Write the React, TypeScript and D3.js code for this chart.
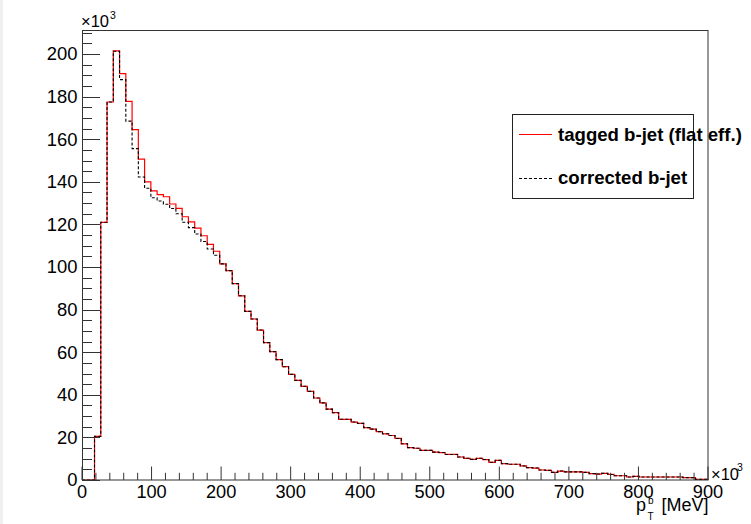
import React from "react";
import * as d3 from "d3";

// Histogram: 100 bins from 0 to 900 (x10^3 MeV), values in x10^3
const binLow = 0;
const binHigh = 900;
const nBins = 100;

const taggedValues = [
  0, 0, 20.5, 121, 177.5, 201.5, 190.8, 177.8, 164.5, 150.7,
  140.0, 135.8, 134.0, 133.0, 129.6, 127.5, 123.6, 121.2, 118.3, 114.7,
  110.6, 107.4, 101.5, 98.3, 92.2, 86.5, 79.2, 75.6, 70.4, 64.5,
  60.3, 56.5, 53.2, 49.6, 46.8, 44.0, 41.6, 38.5, 36.2, 33.3,
  31.6, 28.5, 28.5, 27.2, 26.6, 24.6, 23.9, 22.7, 21.7, 20.9,
  19.5, 17.0, 15.2, 14.9, 13.9, 13.9, 13.1, 12.9, 12.0, 12.0,
  10.8, 10.2, 9.7, 10.2, 9.6, 8.3, 9.2, 7.7, 7.4, 7.4,
  6.6, 5.8, 5.6, 4.7, 4.5, 3.6, 4.2, 3.8, 3.8, 3.8,
  3.6, 3.0, 2.8, 3.1, 2.6, 2.0, 2.0, 1.4, 1.7, 1.4,
  1.4, 1.4, 1.4, 1.4, 1.4, 1.4, 1.1, 1.1, 0.3, 0.3,
];

const correctedValues = [
  0, 0, 20.5, 121, 177.5, 201.3, 188.0, 168.5, 155.6, 142.3,
  137.0, 132.5, 131.0, 129.5, 127.5, 125.0, 121.0, 118.5, 115.5, 112.0,
  108.5, 105.5, 101.5, 98.3, 92.2, 86.5, 79.2, 75.6, 70.4, 64.5,
  60.3, 56.5, 53.2, 49.6, 46.8, 44.0, 41.6, 38.5, 36.2, 33.3,
  31.6, 28.5, 28.5, 27.2, 26.6, 24.6, 23.9, 22.7, 21.7, 20.9,
  19.5, 17.0, 15.2, 14.9, 13.9, 13.9, 13.1, 12.9, 12.0, 12.0,
  10.8, 10.2, 9.7, 10.2, 9.6, 8.3, 9.2, 7.7, 7.4, 7.4,
  6.6, 5.8, 5.6, 4.7, 4.5, 3.6, 4.2, 3.8, 3.8, 3.8,
  3.6, 3.0, 2.8, 3.1, 2.6, 2.0, 2.0, 1.4, 1.7, 1.4,
  1.4, 1.4, 1.4, 1.4, 1.4, 1.4, 1.1, 1.1, 0.3, 0.3,
];

const xMajorTicks = [0, 100, 200, 300, 400, 500, 600, 700, 800, 900];
const yMajorTicks = [0, 20, 40, 60, 80, 100, 120, 140, 160, 180, 200];
const legendLabels = ["tagged b-jet (flat eff.)", "corrected b-jet"];

const W = 751;
const H = 524;
const FONT = "'Liberation Sans', Arial, Helvetica, sans-serif";

export default function App() {
  const x = d3.scaleLinear().domain([binLow, binHigh]).range([82, 708]);
  const y = d3.scaleLinear().domain([0, 211.3]).range([480, 30]);
  const bw = (binHigh - binLow) / nBins;

  const stepPath = (vals: number[]) => {
    const pts: [number, number][] = [[binLow, 0]];
    vals.forEach((v, i) => pts.push([binLow + i * bw, v]));
    pts.push([binHigh, vals[vals.length - 1]]);
    pts.push([binHigh, 0]);
    return d3
      .line<[number, number]>()
      .x((d) => x(d[0]))
      .y((d) => y(d[1]))
      .curve(d3.curveStepAfter)(pts) as string;
  };

  const xMinor = d3.range(0, 901, 20);
  const yMinor = d3.range(0, 211, 5);

  return (
    <svg
      width={W}
      height={H}
      style={{ position: "absolute", left: 0, top: 0, background: "#fff" }}
      fontFamily={FONT}
    >
      <rect x={0} y={0} width={W} height={H} fill="#fff" />
      <rect x={0} y={0} width={3} height={H} fill="#f0f0f0" />

      {/* histograms */}
      <path d={stepPath(taggedValues)} fill="none" stroke="#ff0000" strokeWidth={1.2} />
      <path
        d={stepPath(correctedValues)}
        fill="none"
        stroke="#000"
        strokeWidth={1.1}
        strokeDasharray="3,2"
      />

      {/* legend */}
      <rect x={512.5} y={114.5} width={181} height={84} fill="#fff" stroke="#222" strokeWidth={1} />
      <line x1={519} x2={552} y1={134.5} y2={134.5} stroke="#ff0000" strokeWidth={1.2} />
      <text x={558} y={141} fontSize={18.6} fontWeight="bold" fill="#000">
        {legendLabels[0]}
      </text>
      <line x1={519} x2={552} y1={178.5} y2={178.5} stroke="#000" strokeWidth={1.1} strokeDasharray="3,2" />
      <text x={558} y={183.5} fontSize={18.6} fontWeight="bold" fill="#000">
        {legendLabels[1]}
      </text>

      {/* frame */}
      <rect x={82.5} y={30.5} width={625.5} height={449.5} fill="none" stroke="#333" strokeWidth={1} />

      {/* x ticks */}
      {xMinor.map((t) => (
        <line
          key={"xm" + t}
          x1={x(t)}
          x2={x(t)}
          y1={480}
          y2={xMajorTicks.includes(t) ? 466.5 : 472.8}
          stroke="#333"
          strokeWidth={1}
        />
      ))}
      {xMajorTicks.map((t) => (
        <text key={"xl" + t} x={x(t)} y={497.5} fontSize={18.2} textAnchor="middle" fill="#000">
          {t}
        </text>
      ))}

      {/* y ticks */}
      {yMinor.map((t) => (
        <line
          key={"ym" + t}
          x1={82}
          x2={yMajorTicks.includes(t) ? 100 : 92}
          y1={Math.round(y(t)) + 0.5}
          y2={Math.round(y(t)) + 0.5}
          stroke="#333"
          strokeWidth={1}
        />
      ))}
      {yMajorTicks.map((t) => (
        <text key={"yl" + t} x={77.5} y={y(t) + 6.4} fontSize={18.4} textAnchor="end" fill="#000">
          {t}
        </text>
      ))}

      {/* exponent labels */}
      <text x={81} y={26.5} fontSize={16.5} fill="#000">
        ×10
      </text>
      <text x={110} y={18.5} fontSize={10.5} fill="#000">
        3
      </text>
      <text x={711} y={479.5} fontSize={16.5} fill="#000">
        ×10
      </text>
      <text x={737} y={470.5} fontSize={10.5} fill="#000">
        3
      </text>

      {/* axis title */}
      <text x={636} y={511} fontSize={18} fill="#000">
        p
      </text>
      <text x={647.5} y={519.5} fontSize={10} fill="#000">
        T
      </text>
      <text x={648} y={504} fontSize={10} fill="#000">
        b
      </text>
      <text x={708.5} y={511} fontSize={18} textAnchor="end" fill="#000">
        [MeV]
      </text>
    </svg>
  );
}
